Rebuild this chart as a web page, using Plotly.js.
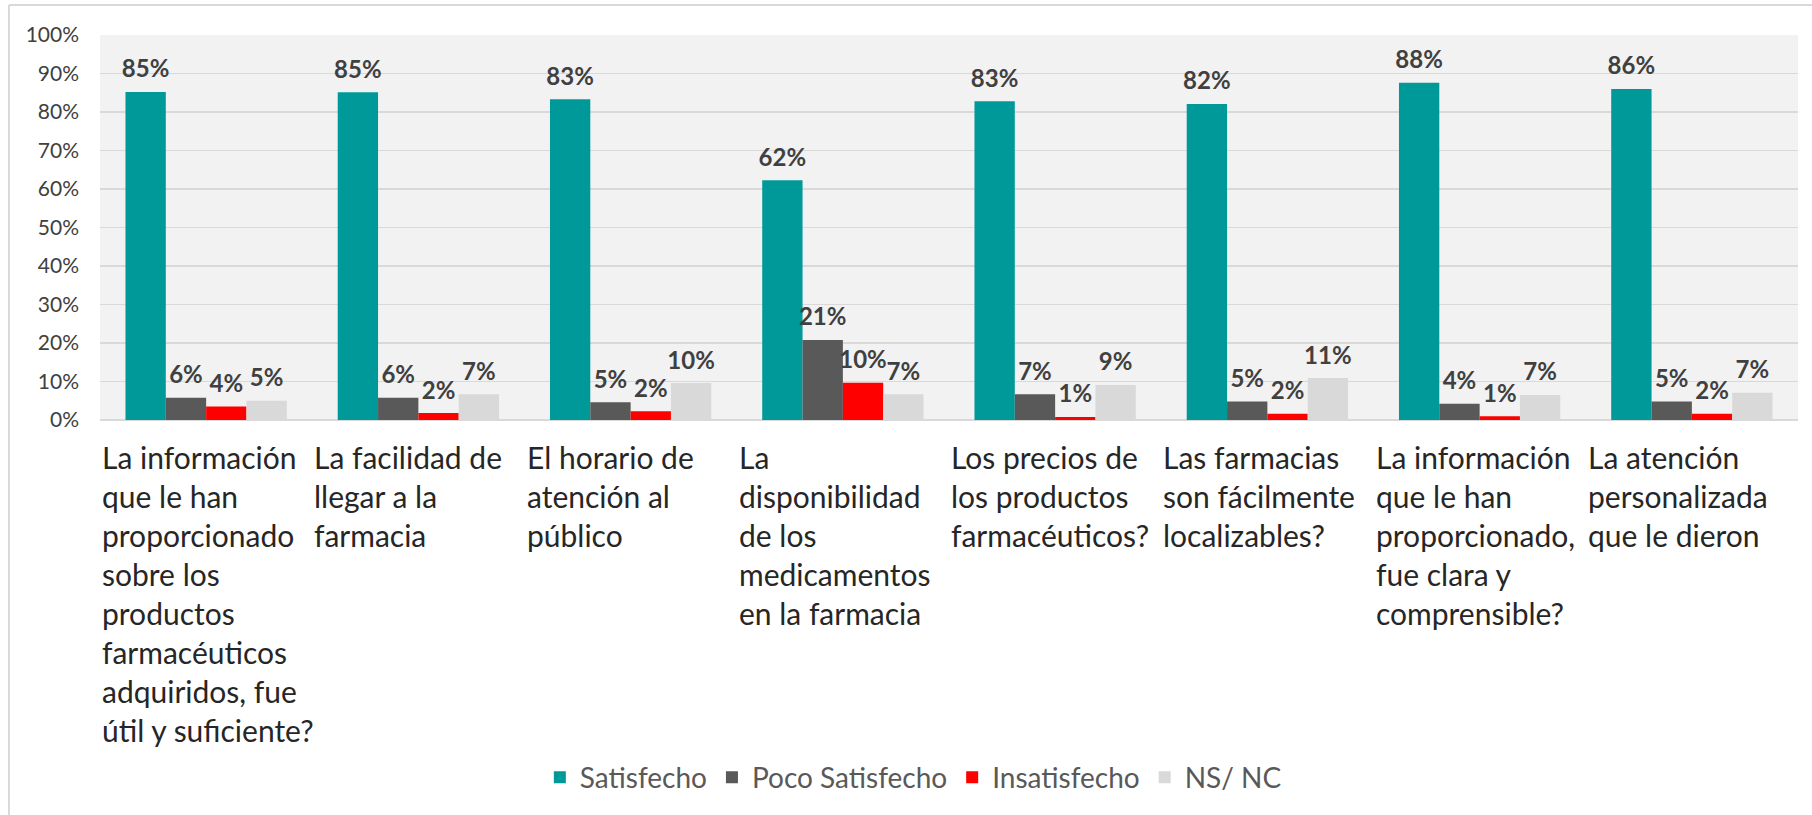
<!DOCTYPE html>
<html>
<head>
<meta charset="utf-8">
<script src="https://cdn.plot.ly/plotly-3.0.1.min.js"></script>
<style>
  html, body { margin: 0; padding: 0; background: #ffffff; }
  #chart { width: 1812px; height: 815px; }
</style>
</head>
<body>
<div id="chart"></div>
<script>
const categories = [
  "La información<br>que le han<br>proporcionado<br>sobre los<br>productos<br>farmacéuticos<br>adquiridos, fue<br>útil y suficiente?",
  "La facilidad de<br>llegar a la<br>farmacia",
  "El horario de<br>atención al<br>público",
  "La<br>disponibilidad<br>de los<br>medicamentos<br>en la farmacia",
  "Los precios de<br>los productos<br>farmacéuticos?",
  "Las farmacias<br>son fácilmente<br>localizables?",
  "La información<br>que le han<br>proporcionado,<br>fue clara y<br>comprensible?",
  "La atención<br>personalizada<br>que le dieron"
];
const seriesNames = ["Satisfecho", "Poco Satisfecho", "Insatisfecho", "NS/ NC"];
const satisfecho     = [0.852, 0.851, 0.833, 0.623, 0.828, 0.821, 0.876, 0.860];
const pocoSatisfecho = [0.058, 0.058, 0.046, 0.208, 0.067, 0.048, 0.042, 0.048];
const insatisfecho   = [0.035, 0.018, 0.023, 0.097, 0.008, 0.016, 0.010, 0.016];
const nsnc           = [0.050, 0.067, 0.096, 0.067, 0.091, 0.109, 0.065, 0.071];
const seriesColors = ["#009999", "#595959", "#ff0000", "#d9d9d9"];

const FONT = "Lato, 'Open Sans', sans-serif";
const allValues = [satisfecho, pocoSatisfecho, insatisfecho, nsnc];

const barTraces = allValues.map((vals, k) => ({
  type: "bar",
  name: seriesNames[k],
  x: categories,
  y: vals,
  marker: { color: seriesColors[k] },
  hoverinfo: "skip"
}));

// value labels: grouped text points placed above each bar
const labelTraces = allValues.map((vals, k) => ({
  type: "scatter",
  mode: "markers+text",
  name: seriesNames[k] + " etiqueta",
  showlegend: false,
  x: categories,
  y: vals,
  marker: { size: 12, opacity: 0, color: seriesColors[k] },
  texttemplate: "%{y:.0%}",
  textposition: "top center",
  cliponaxis: false,
  textfont: { family: FONT, size: 24, color: "#404040", weight: 700 },
  hoverinfo: "skip"
}));

const annotations = categories.map((c, i) => ({
  text: c,
  x: i - 0.5,
  xref: "x",
  y: -0.045,
  yref: "paper",
  xanchor: "left",
  yanchor: "top",
  align: "left",
  showarrow: false,
  font: { family: FONT, size: 30, color: "#262626" }
}));

const layout = {
  width: 1812,
  height: 815,
  margin: { l: 100, r: 14, t: 35, b: 395, pad: 0 },
  paper_bgcolor: "#ffffff",
  plot_bgcolor: "#f2f2f2",
  barmode: "group",
  bargap: 0.24,
  bargroupgap: 0,
  scattermode: "group",
  scattergap: 0.24,
  showlegend: true,
  legend: {
    orientation: "h",
    x: 0.479,
    xanchor: "center",
    y: -0.929,
    yanchor: "middle",
    font: { family: FONT, size: 28, color: "#595959" },
    traceorder: "normal"
  },
  xaxis: {
    type: "category",
    range: [-0.5, 7.5],
    showticklabels: false,
    showgrid: false,
    zeroline: false,
    showline: false,
    ticks: ""
  },
  yaxis: {
    range: [0, 1],
    dtick: 0.1,
    tick0: 0,
    tickformat: ".0%",
    gridcolor: "#d9d9d9",
    gridwidth: 1.5,
    zeroline: true,
    zerolinecolor: "#d9d9d9",
    zerolinewidth: 1.5,
    showline: false,
    ticks: "",
    ticklabelstandoff: 20,
    tickfont: { family: FONT, size: 21, color: "#404040" }
  },
  annotations: annotations,
  shapes: [
    { type: "line", xref: "paper", yref: "paper", x0: -0.0536, x1: -0.0536, y0: -1.2, y1: 1.078,
      line: { color: "#d9d9d9", width: 2 } },
    { type: "line", xref: "paper", yref: "paper", x0: -0.0536, x1: 1.02, y0: 1.078, y1: 1.078,
      line: { color: "#d9d9d9", width: 2 } }
  ]
};

Plotly.newPlot("chart", barTraces.concat(labelTraces), layout, { displayModeBar: false, staticPlot: true });
</script>
</body>
</html>
